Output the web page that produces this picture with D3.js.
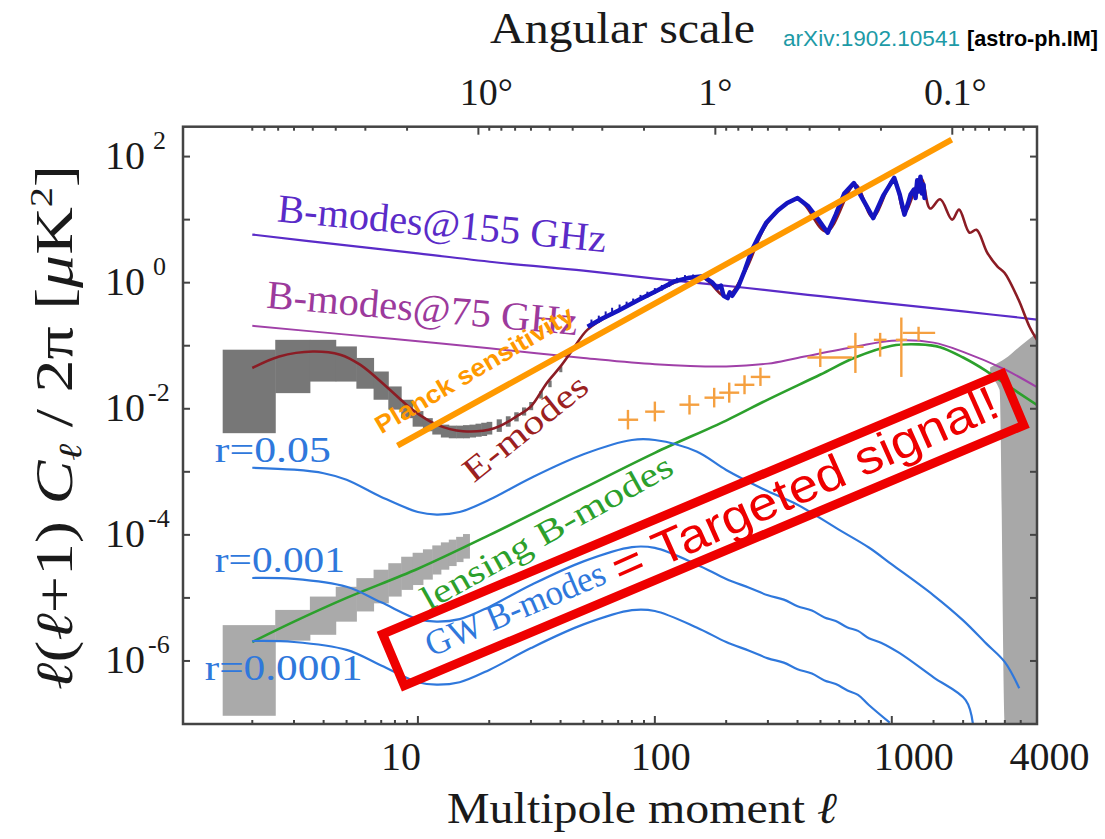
<!DOCTYPE html>
<html>
<head>
<meta charset="utf-8">
<script src="https://cdn.jsdelivr.net/npm/d3@7"></script>
<style>
  body { margin: 0; background: #fff; }
  svg { display: block; }
</style>
</head>
<body>
<svg id="chart" width="1105" height="839"></svg>
<script>
// ---- Spectra: [multipole ℓ, ℓ(ℓ+1)C_ℓ/2π in μK²] ----
const bmodes155 = [[2,5.8],[5,3.9],[10,2.92],[22,2.07],[50,1.55],[100,1.16],[240,0.83],[500,0.61],[1000,0.46],[2000,0.35],[4100,0.26]];
const bmodes75 = [[2,0.207],[5,0.15],[10,0.118],[20,0.091],[50,0.064],[100,0.051],[200,0.047],[300,0.052],[400,0.064],[700,0.096],[1000,0.12],[1500,0.112],[2000,0.08],[3000,0.042],[4100,0.022]];
const eModes = [[2,0.0443],[2.6,0.0676],[3.6,0.081],[4.7,0.072],[5.7,0.05],[7.35,0.0226],[9.5,0.0096],[12,0.0056],[15.5,0.0044],[21,0.0049],[26,0.0075],[30,0.0109],[35,0.0257],[40,0.047],[45,0.0865],[52,0.18],[70,0.36],[100,0.7],[130,1.1],[160,1.2],[200,0.6],[240,1.5],[300,9],[400,21],[530,6.5],[700,36],[830,11],[1020,44],[1130,13],[1330,45],[1450,15],[1600,21],[1797,10],[1923,14.4],[2128,6.2],[2277,6.9],[2527,3.0],[2793,1.8],[2989,1.44],[3424,0.54],[3812,0.2],[4100,0.124]];
const eModeData = [[52,0.2],[60,0.27],[70,0.36],[86,0.54],[100,0.72],[121,1.05],[140,1.2],[160,1.26],[175,1.0],[183,0.82],[190,0.9],[195,0.62],[203,0.57],[207,0.7],[212,0.62],[225,0.87],[240,1.6],[257,3.3],[275,5.5],[295,8.9],[330,14],[362,18.4],[400,22],[444,16.3],[490,10],[536,6.2],[580,12],[630,26],[692,38],[760,20],[835,10.6],[920,24],[1024,46],[1080,25],[1131,12],[1170,18],[1200,25],[1240,30],[1260,22],[1280,42],[1300,28],[1321,48],[1340,26],[1360,36],[1375,22],[1391,23]];
const eModeErr = [[54,0.2,0.26],[58,0.23,0.3],[62,0.27,0.35],[66,0.3,0.4],[71,0.35,0.45],[76,0.4,0.5],[81,0.45,0.56],[87,0.52,0.64],[93,0.58,0.72],[100,0.66,0.82],[107,0.75,0.92],[115,0.86,1.05],[124,0.98,1.2],[134,1.05,1.32],[145,1.1,1.35]];
const lensing = [[2,2.0e-6],[3,4.2e-6],[5,1.0e-5],[10,2.9e-5],[20,9.9e-5],[50,5.5e-4],[100,2.0e-3],[200,6.5e-3],[300,1.4e-2],[500,3.5e-2],[700,6.5e-2],[1000,0.1],[1300,0.105],[1600,0.095],[2000,0.065],[2500,0.04],[3000,0.025],[4100,0.0115]];
const gwR005 = [[2,1.16e-3],[3,1.08e-3],[4,9.5e-4],[5,7.5e-4],[7,4.0e-4],[10,2.3e-4],[12,2.1e-4],[15,2.3e-4],[20,3.6e-4],[30,8.0e-4],[50,1.9e-3],[80,3.2e-3],[100,3.2e-3],[150,2.1e-3],[200,1.07e-3],[300,4.9e-4],[400,3.0e-4],[600,1.2e-4],[800,6.3e-5],[1000,3.4e-5],[1500,1.1e-5],[2000,4.4e-6],[2500,1.9e-6],[3000,9.6e-7],[3450,3.7e-7]];
const gwR0001 = [[2,2.07e-5],[3,2.0e-5],[5,1.5e-5],[7,8.5e-6],[10,4.6e-6],[12,4.2e-6],[15,4.6e-6],[20,7.2e-6],[30,1.6e-5],[50,3.8e-5],[80,6.4e-5],[100,6.2e-5],[150,3.4e-5],[200,2.0e-5],[250,1.45e-5],[300,1.1e-5],[350,9.4e-6],[400,7.4e-6],[460,6.3e-6],[520,4.9e-6],[580,4.3e-6],[650,3.4e-6],[720,3.0e-6],[800,2.3e-6],[900,1.95e-6],[1076,1.34e-6],[1500,5.5e-7],[2050,2.4e-7],[2200,1.0e-7]];
const gwR00001 = [[2,2.07e-6],[3,2.0e-6],[5,1.5e-6],[7,8.5e-7],[10,4.6e-7],[12,4.2e-7],[15,4.6e-7],[20,7.2e-7],[30,1.6e-6],[50,3.8e-6],[80,6.4e-6],[100,6.2e-6],[150,3.4e-6],[200,2.0e-6],[250,1.45e-6],[300,1.1e-6],[350,9.4e-7],[400,7.4e-7],[460,6.3e-7],[520,4.9e-7],[580,4.3e-7],[650,3.4e-7],[720,2.9e-7],[800,2.0e-7],[980,1.05e-7]];
// ---- Cosmic-variance boxes: [ℓ, low, high] ----
const eModeCV = [[2,0.0041,0.0865],[3,0.0177,0.124],[4,0.027,0.124],[5,0.027,0.0975],[6,0.0208,0.064],[7,0.0139,0.039],[8,0.0097,0.0226],[9,0.0071,0.0139],[10,0.0052,0.0092],[11,0.0044,0.0071],[12,0.0039,0.0059],[13,0.0035,0.0056],[14,0.0034,0.0054],[15,0.0034,0.0054],[16,0.0034,0.0055],[17,0.0035,0.0056],[18,0.0036,0.0058],[19,0.0037,0.006],[20,0.0039,0.0062],[22,0.0043,0.0068],[24,0.0052,0.0076],[26,0.0063,0.0088],[28,0.0078,0.0105],[30,0.0095,0.0128],[33,0.0145,0.019],[36,0.022,0.028],[40,0.038,0.047]];
const lensingCV = [[2,1.35e-7,3.7e-6],[3,2.1e-6,6.45e-6],[4,2.6e-6,1.05e-5],[5,4.2e-6,1.5e-5],[6,6.1e-6,2.06e-5],[7,8.2e-6,2.8e-5],[8,1.05e-5,3.55e-5],[9,1.34e-5,4.5e-5],[10,1.6e-5,5.2e-5],[11,1.95e-5,5.9e-5],[12,2.35e-5,6.8e-5],[13,2.8e-5,7.6e-5],[14,3.2e-5,8.4e-5],[15,3.7e-5,9.3e-5],[16,4.2e-5,1.03e-4]];
// ---- BB measurements: [ℓ, value, ℓ-, ℓ+, value-, value+] ----
const bbPoints = [[77,6.7e-3,70,85,4.7e-3,9.6e-3],[100,9.0e-3,91,110,6.3e-3,1.3e-2],[140,1.16e-2,127,154,8.1e-3,1.65e-2],[178,1.5e-2,162,196,1.05e-2,2.15e-2],[206,1.8e-2,187,227,1.25e-2,2.6e-2],[239,2.4e-2,217,263,1.7e-2,3.4e-2],[279,3.2e-2,254,307,2.3e-2,4.5e-2],[499,6.5e-2,440,682,4.6e-2,9.0e-2],[702,9.6e-2,650,760,3.7e-2,0.16],[893,0.124,840,950,0.067,0.16],[1097,0.124,1040,1160,0.032,0.28],[1297,0.16,1112,1524,0.12,0.2]];
// ---- Planck sensitivity line: [ℓ, value] end points ----
const planckLine = [[8.2,2.6e-3],[1790,186]];
// ---- High-ℓ shaded region: [ℓ, low, high] ----
const highEllBand = [[2600,0.032,0.045],[2850,0.02,0.055],[3000,1e-7,0.062],[3500,1e-7,0.1],[4100,1e-7,0.16]];
// ---- Axis labels ----
const xTickLabels = [10, 100, 1000, 4000];
const yTickExponents = [2, 0, -2, -4, -6];
const angleMajor = [10, 1, 0.1];

const L = 183, R = 1037, T = 126.7, B = 724;
const svg = d3.select("#chart");
const serif = "'Liberation Serif', 'Times New Roman', serif";
const sans = "'Liberation Sans', Arial, sans-serif";

const x = d3.scaleLog().domain([1.02, 4100]).range([L, R]);
const y = d3.scaleLog().domain([1e-7, Math.pow(10, 2.474)]).range([B, T]);

svg.append("defs").append("clipPath").attr("id", "plotClip")
  .append("rect").attr("x", L).attr("y", T).attr("width", R - L).attr("height", B - T);
const plot = svg.append("g").attr("clip-path", "url(#plotClip)");

const line = d3.line().x(d => x(d[0])).y(d => y(d[1])).curve(d3.curveCatmullRom.alpha(0.5));

// cosmic variance step boxes
function cvBoxes(data, fill) {
  plot.append("g").selectAll("rect").data(data).join("rect")
    .attr("x", d => x(d[0] - 0.5))
    .attr("width", d => x(d[0] + 0.5) - x(d[0] - 0.5) + 0.5)
    .attr("y", d => y(d[2]))
    .attr("height", d => y(d[1]) - y(d[2]))
    .attr("fill", fill);
}
cvBoxes(eModeCV, "#777");
cvBoxes(lensingCV, "#aaa");

// high-ℓ band
plot.append("path").datum(highEllBand)
  .attr("d", d3.area().x(d => x(d[0])).y0(d => y(d[1])).y1(d => y(d[2])).curve(d3.curveMonotoneX))
  .attr("fill", "#a8a8a8");

// foreground curves
plot.append("path").datum(bmodes155).attr("d", line).attr("fill", "none").attr("stroke", "#5a2bc8").attr("stroke-width", 2.2);
plot.append("path").datum(bmodes75).attr("d", line).attr("fill", "none").attr("stroke", "#a040a8").attr("stroke-width", 2);

// E-mode theory
plot.append("path").datum(eModes).attr("d", line).attr("fill", "none").attr("stroke", "#8b1c24").attr("stroke-width", 2.6);

// E-mode data
plot.append("g").selectAll("line").data(eModeErr).join("line")
  .attr("x1", d => x(d[0])).attr("x2", d => x(d[0]))
  .attr("y1", d => y(d[1])).attr("y2", d => y(d[2]))
  .attr("stroke", "#1b1bb0").attr("stroke-width", 2);
plot.append("path").datum(eModeData).attr("d", d3.line().x(d => x(d[0])).y(d => y(d[1])))
  .attr("fill", "none").attr("stroke", "#1515c0").attr("stroke-width", 4.5).attr("stroke-linejoin", "round");

// lensing B-modes
plot.append("path").datum(lensing).attr("d", line).attr("fill", "none").attr("stroke", "#2ca02c").attr("stroke-width", 2.6);

// GW B-modes
[gwR005, gwR0001, gwR00001].forEach(s => {
  plot.append("path").datum(s).attr("d", line).attr("fill", "none").attr("stroke", "#2f78dc").attr("stroke-width", 2.2);
});

// BB measurement crosses
const cross = plot.append("g").attr("stroke", "#f5a040").attr("stroke-width", 2.4);
cross.selectAll(".h").data(bbPoints).join("line")
  .attr("x1", d => x(d[2])).attr("x2", d => x(d[3])).attr("y1", d => y(d[1])).attr("y2", d => y(d[1]));
cross.selectAll(".v").data(bbPoints).join("line")
  .attr("x1", d => x(d[0])).attr("x2", d => x(d[0])).attr("y1", d => y(d[4])).attr("y2", d => y(d[5]));

// Planck sensitivity
plot.append("line")
  .attr("x1", x(planckLine[0][0])).attr("y1", y(planckLine[0][1]))
  .attr("x2", x(planckLine[1][0])).attr("y2", y(planckLine[1][1]))
  .attr("stroke", "#ff9900").attr("stroke-width", 6);

// ---- frame and ticks ----
const ax = svg.append("g").attr("stroke", "#444").attr("fill", "none");
ax.append("rect").attr("x", L).attr("y", T).attr("width", R - L).attr("height", B - T).attr("stroke-width", 2.5);

// bottom ticks (multipole)
const bottomMinor = [];
[1, 10, 100].forEach(p => { for (let k = 2; k <= 9; k++) bottomMinor.push(k * p); });
[1500, 2000, 2500, 3000, 3500].forEach(v => bottomMinor.push(v));
bottomMinor.forEach(v => ax.append("line").attr("x1", x(v)).attr("x2", x(v)).attr("y1", B).attr("y2", B - 4).attr("stroke-width", 2));
[10, 100, 1000].forEach(v => ax.append("line").attr("x1", x(v)).attr("x2", x(v)).attr("y1", B).attr("y2", B - 8).attr("stroke-width", 2));

// top ticks (angular scale, θ ≈ 180°/ℓ)
const ellFromDeg = d => 180 / d;
const angleMinor = [];
[10, 1, 0.1, 0.01].forEach(p => { for (let k = 2; k <= 9; k++) angleMinor.push(k * p); });
angleMinor.filter(d => ellFromDeg(d) > 1.05 && ellFromDeg(d) < 4050)
  .forEach(d => ax.append("line").attr("x1", x(ellFromDeg(d))).attr("x2", x(ellFromDeg(d))).attr("y1", T).attr("y2", T + 4).attr("stroke-width", 2));
angleMajor.forEach(d => ax.append("line").attr("x1", x(ellFromDeg(d))).attr("x2", x(ellFromDeg(d))).attr("y1", T).attr("y2", T + 8).attr("stroke-width", 2));

// left / right decade ticks
d3.range(-6, 3).forEach(e => {
  const yy = y(Math.pow(10, e));
  ax.append("line").attr("x1", L).attr("x2", L + 7).attr("y1", yy).attr("y2", yy).attr("stroke-width", 2);
  ax.append("line").attr("x1", R).attr("x2", R - 7).attr("y1", yy).attr("y2", yy).attr("stroke-width", 2);
});

// ---- tick labels ----
const txt = svg.append("g").attr("fill", "#1a1a1a").attr("font-family", serif);
const xNudge = { 10: -17, 100: 6, 1000: 22, 4000: 15 };
xTickLabels.forEach(v => {
  txt.append("text").attr("x", x(v) + xNudge[v]).attr("y", 770).attr("text-anchor", "middle")
    .attr("font-size", 40).text(v);
});
yTickExponents.forEach(e => {
  const yy = y(Math.pow(10, e));
  txt.append("text").attr("x", 145).attr("y", yy + 12).attr("text-anchor", "end").attr("font-size", 40).text("10");
  txt.append("text").attr("x", e < 0 ? 148 : 153).attr("y", yy - 8).attr("text-anchor", "start").attr("font-size", 26)
    .text(e < 0 ? "-" + Math.abs(e) : String(e));
});
const angleText = { 10: "10°", 1: "1°", 0.1: "0.1°" };
const angleNudge = { 10: 8, 1: 0, 0.1: 3 };
angleMajor.forEach(d => {
  txt.append("text").attr("x", x(ellFromDeg(d)) + angleNudge[d]).attr("y", 105).attr("text-anchor", "middle")
    .attr("font-size", 38).text(angleText[d]);
});

// ---- axis titles ----
txt.append("text").attr("x", 490).attr("y", 43).attr("font-size", 44).attr("textLength", 265).attr("lengthAdjust", "spacingAndGlyphs").text("Angular scale");
const xt = txt.append("text").attr("x", 447).attr("y", 823).attr("font-size", 44).attr("textLength", 390).attr("lengthAdjust", "spacingAndGlyphs");
xt.append("tspan").text("Multipole moment ");
xt.append("tspan").attr("font-style", "italic").text("ℓ");

const yt = txt.append("text").attr("transform", "translate(72,690) rotate(-90)").attr("font-size", 52)
  .attr("textLength", 525).attr("lengthAdjust", "spacingAndGlyphs");
yt.append("tspan").attr("font-style", "italic").text("ℓ");
yt.append("tspan").text("(");
yt.append("tspan").attr("font-style", "italic").text("ℓ");
yt.append("tspan").text("+1) ");
yt.append("tspan").attr("font-style", "italic").text("C");
yt.append("tspan").attr("font-style", "italic").attr("font-size", 32).attr("dy", 9).text("ℓ");
yt.append("tspan").attr("dy", -9).text(" / 2π [");
yt.append("tspan").attr("font-style", "italic").text("μ");
yt.append("tspan").text("K");
yt.append("tspan").attr("font-size", 32).attr("dy", -20).text("2");
yt.append("tspan").attr("dy", 20).text("]");

// source line
svg.append("text").attr("x", 783).attr("y", 46).attr("font-family", sans).attr("font-size", 22)
  .attr("fill", "#1d9aa6").attr("textLength", 177).attr("lengthAdjust", "spacingAndGlyphs").text("arXiv:1902.10541");
svg.append("text").attr("x", 967).attr("y", 46).attr("font-family", sans).attr("font-size", 22)
  .attr("fill", "#000").attr("font-weight", "bold").attr("textLength", 131).attr("lengthAdjust", "spacingAndGlyphs").text("[astro-ph.IM]");

// ---- in-plot annotations ----
function label(text, lx, ly, angle, size, color, opts = {}) {
  const t = svg.append("text")
    .attr("transform", `translate(${x(lx)},${y(ly)}) rotate(${angle})`)
    .attr("font-family", opts.family || serif)
    .attr("font-size", size).attr("fill", color).text(text);
  if (opts.weight) t.attr("font-weight", opts.weight);
  if (opts.len) t.attr("textLength", opts.len).attr("lengthAdjust", "spacingAndGlyphs");
  return t;
}
label("B-modes@155 GHz", 2.53, 9.3, 5.3, 40, "#5a2bc8", { len: 330 });
label("B-modes@75 GHz", 2.28, 0.40, 5.0, 40, "#9c3a9c", { len: 312 });
label("E-modes", 17.2, 6.5e-4, -38.6, 34, "#9b2020", { len: 150 });
label("lensing B-modes", 11.1, 6.2e-6, -29.2, 34, "#2ca02c", { len: 283 });
label("r=0.05", 1.39, 1.44e-3, 0, 36, "#2f78dc", { len: 116 });
label("r=0.001", 1.39, 2.59e-5, 0, 36, "#2f78dc", { len: 130 });
label("r=0.0001", 1.26, 5.0e-7, 0, 36, "#2f78dc", { len: 158 });
label("Planck sensitivity", 7.0, 3.9e-3, -30.5, 25, "#ff9900", { family: sans, weight: "bold", len: 226 });

// red highlight box with its caption, laid out in the box's own frame
const boxCenter = [160, 1.21e-4];
const boxG = svg.append("g")
  .attr("transform", `translate(${x(boxCenter[0])},${y(boxCenter[1])}) rotate(-22.8)`);
boxG.append("rect")
  .attr("x", -336).attr("y", -28).attr("width", 672).attr("height", 56)
  .attr("fill", "none").attr("stroke", "#ee0000").attr("stroke-width", 9);
boxG.append("text").attr("x", -300).attr("y", 12).attr("font-family", serif).attr("font-size", 36)
  .attr("fill", "#2f78dc").attr("textLength", 192).attr("lengthAdjust", "spacingAndGlyphs").text("GW B-modes");
boxG.append("text").attr("x", -98).attr("y", 17).attr("transform", "rotate(-1.2)").attr("font-family", sans).attr("font-size", 48)
  .attr("fill", "#ee0000").attr("textLength", 418).attr("lengthAdjust", "spacingAndGlyphs").text("= Targeted signal!");
</script>
</body>
</html>
